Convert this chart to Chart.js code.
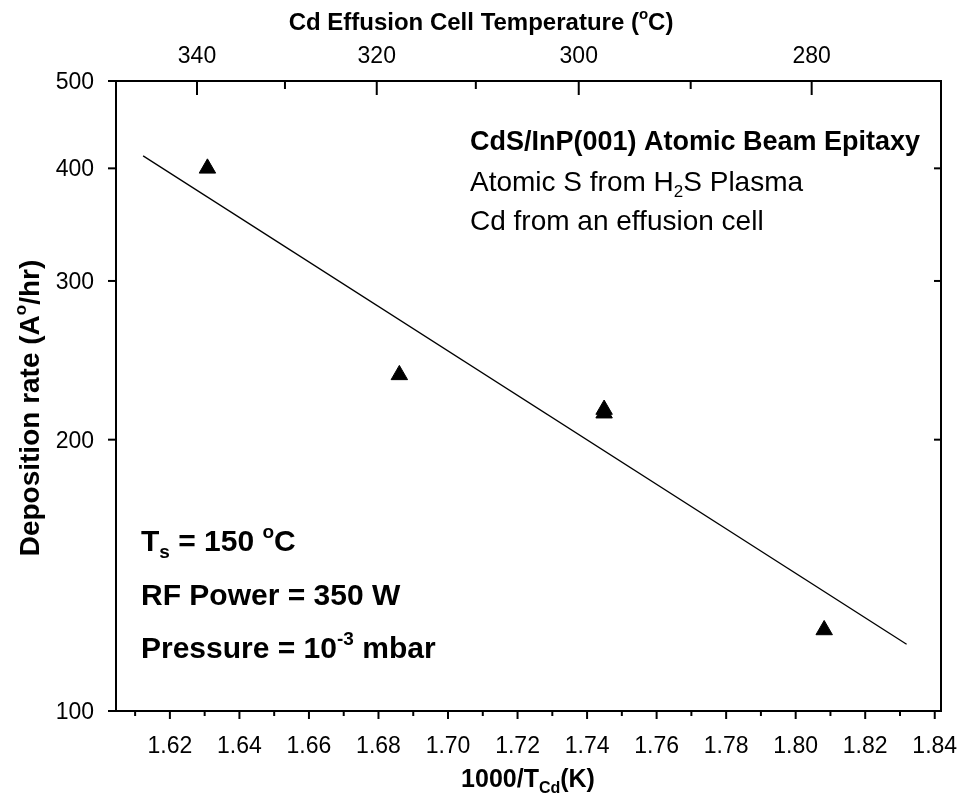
<!DOCTYPE html>
<html>
<head>
<meta charset="utf-8">
<script src="https://cdn.jsdelivr.net/npm/chart.js@4.4.0/dist/chart.umd.min.js"></script>
<style>
  body { margin: 0; background: #fff; }
  canvas { display: block; }
</style>
</head>
<body>
<canvas id="graphe" width="961" height="803"></canvas>
<script>
// 1000/T (K) des points mesurés et vitesse de dépôt (A°/hr)
const invT = [1.6308, 1.6860, 1.7449, 1.7449, 1.8082];
const rate = [400, 236, 216, 214, 123];

// droite d'ajustement (extrémités)
const fitX = [1.6123, 1.8319];
const fitY = [413, 118.6];

// graduations
const xTicks = [1.62, 1.64, 1.66, 1.68, 1.70, 1.72, 1.74, 1.76, 1.78, 1.80, 1.82, 1.84];
const xMinor = [1.61, 1.63, 1.65, 1.67, 1.69, 1.71, 1.73, 1.75, 1.77, 1.79, 1.81, 1.83];
const yTicks = [100, 200, 300, 400, 500];
// axe du haut : température de la cellule (°C) et sa position en 1000/T
const topTempC = [340, 330, 320, 310, 300, 290, 280];
const topTickPos = [1.6278, 1.6531, 1.6795, 1.7080, 1.7376, 1.7698, 1.8046];
const topLabels = ["340", "", "320", "", "300", "", "280"];

const X_MIN = 1.6045, X_MAX = 1.8418;

const FONT = '"Liberation Sans", Arial, sans-serif';
const BOX = { left: 116, right: 941, top: 81, bottom: 711 };

// texte avec indices / exposants, y = ligne de base
function drawRuns(ctx, runs, x, y, opt) {
  const size = opt.size, weight = opt.bold ? "bold " : "";
  const small = Math.round(size * 0.62);
  let total = 0;
  const parts = runs.map(([t, kind]) => {
    ctx.font = weight + (kind ? small : size) + "px " + FONT;
    const w = ctx.measureText(t).width;
    total += w;
    return { t, kind, w };
  });
  ctx.save();
  ctx.translate(x, y);
  if (opt.rotate) ctx.rotate(opt.rotate);
  let cx = opt.align === "center" ? -total / 2 : opt.align === "right" ? -total : 0;
  ctx.fillStyle = "#000";
  ctx.textBaseline = "alphabetic";
  parts.forEach((p) => {
    ctx.font = weight + (p.kind ? small : size) + "px " + FONT;
    let dy = 0;
    if (p.kind === "sup") dy = -size * 0.45;
    if (p.kind === "sub") dy = size * 0.22;
    ctx.fillText(p.t, cx, dy);
    cx += p.w;
  });
  ctx.restore();
}

const habillage = {
  id: "habillage",
  afterDraw(chart) {
    const ctx = chart.ctx;
    const xs = chart.scales.x, ys = chart.scales.y;
    const area = chart.chartArea;
    ctx.save();
    ctx.strokeStyle = "#000";
    ctx.lineWidth = 2;
    const line = (x1, y1, x2, y2) => {
      ctx.beginPath();
      ctx.moveTo(x1, y1);
      ctx.lineTo(x2, y2);
      ctx.stroke();
    };
    // axe du bas
    xTicks.forEach((v) => {
      const px = xs.getPixelForValue(v);
      line(px, area.bottom, px, area.bottom + 8);
      drawRuns(ctx, [[v.toFixed(2), ""]], px, area.bottom + 42, { size: 23, align: "center" });
    });
    xMinor.forEach((v) => {
      const px = xs.getPixelForValue(v);
      line(px, area.bottom, px, area.bottom + 5);
    });
    // axes gauche / droite
    yTicks.forEach((v) => {
      const py = ys.getPixelForValue(v);
      line(area.left - 8, py, area.left, py);
      if (v > 100 && v < 500) line(area.right - 7, py, area.right, py);
      drawRuns(ctx, [[String(v), ""]], area.left - 22, py + 8, { size: 23, align: "right" });
    });
    // axe du haut (°C)
    topTickPos.forEach((v, i) => {
      const px = xs.getPixelForValue(v);
      const major = topLabels[i] !== "";
      line(px, area.top, px, area.top + (major ? 14 : 8));
      if (major) drawRuns(ctx, [[topLabels[i], ""]], px, area.top - 18, { size: 23, align: "center" });
    });
    ctx.restore();

    // titres des axes
    drawRuns(ctx, [["Cd Effusion Cell Temperature (", ""], ["o", "sup"], ["C)", ""]], 481, 30, { size: 24, bold: true, align: "center" });
    drawRuns(ctx, [["1000/T", ""], ["Cd", "sub"], ["(K)", ""]], 528, 787, { size: 25, bold: true, align: "center" });
    drawRuns(ctx, [["Deposition rate (A", ""], ["o", "sup"], ["/hr)", ""]], 39, 408, { size: 28, bold: true, align: "center", rotate: -Math.PI / 2 });

    // annotations
    drawRuns(ctx, [["CdS/InP(001) Atomic Beam Epitaxy", ""]], 470, 150, { size: 27, bold: true });
    drawRuns(ctx, [["Atomic S from H", ""], ["2", "sub"], ["S Plasma", ""]], 470, 191, { size: 28 });
    drawRuns(ctx, [["Cd from an effusion cell", ""]], 470, 230, { size: 28 });
    drawRuns(ctx, [["T", ""], ["s", "sub"], [" = 150 ", ""], ["o", "sup"], ["C", ""]], 141, 551, { size: 30, bold: true });
    drawRuns(ctx, [["RF Power = 350 W", ""]], 141, 605, { size: 30, bold: true });
    drawRuns(ctx, [["Pressure = 10", ""], ["-3", "sup"], [" mbar", ""]], 141, 658, { size: 30, bold: true });
  },
};

const axe = (extra) => ({
  ticks: { display: false },
  grid: { display: false },
  border: { display: true, color: "#000", width: 2 },
  ...extra,
});

new Chart(document.getElementById("graphe"), {
  type: "scatter",
  data: {
    datasets: [
      {
        data: invT.map((x, i) => ({ x, y: rate[i] })),
        pointStyle: "triangle",
        pointRadius: 9.5,
        backgroundColor: "#000",
        borderColor: "#000",
        borderWidth: 1,
      },
      {
        data: fitX.map((x, i) => ({ x, y: fitY[i] })),
        showLine: true,
        borderColor: "#000",
        borderWidth: 1.3,
        pointRadius: 0,
      },
    ],
  },
  options: {
    responsive: false,
    animation: false,
    layout: { padding: 0 },
    plugins: { legend: { display: false }, tooltip: { enabled: false } },
    scales: {
      x: axe({ type: "linear", position: "bottom", min: X_MIN, max: X_MAX,
        afterFit: (s) => { s.height = 803 - BOX.bottom; } }),
      xHaut: axe({ type: "linear", position: "top", min: X_MIN, max: X_MAX,
        afterFit: (s) => { s.height = BOX.top; } }),
      y: axe({ type: "logarithmic", position: "left", min: 100, max: 500,
        afterFit: (s) => { s.width = BOX.left; } }),
      yDroite: axe({ type: "logarithmic", position: "right", min: 100, max: 500,
        afterFit: (s) => { s.width = 961 - BOX.right; } }),
    },
  },
  plugins: [habillage],
});
</script>
</body>
</html>
